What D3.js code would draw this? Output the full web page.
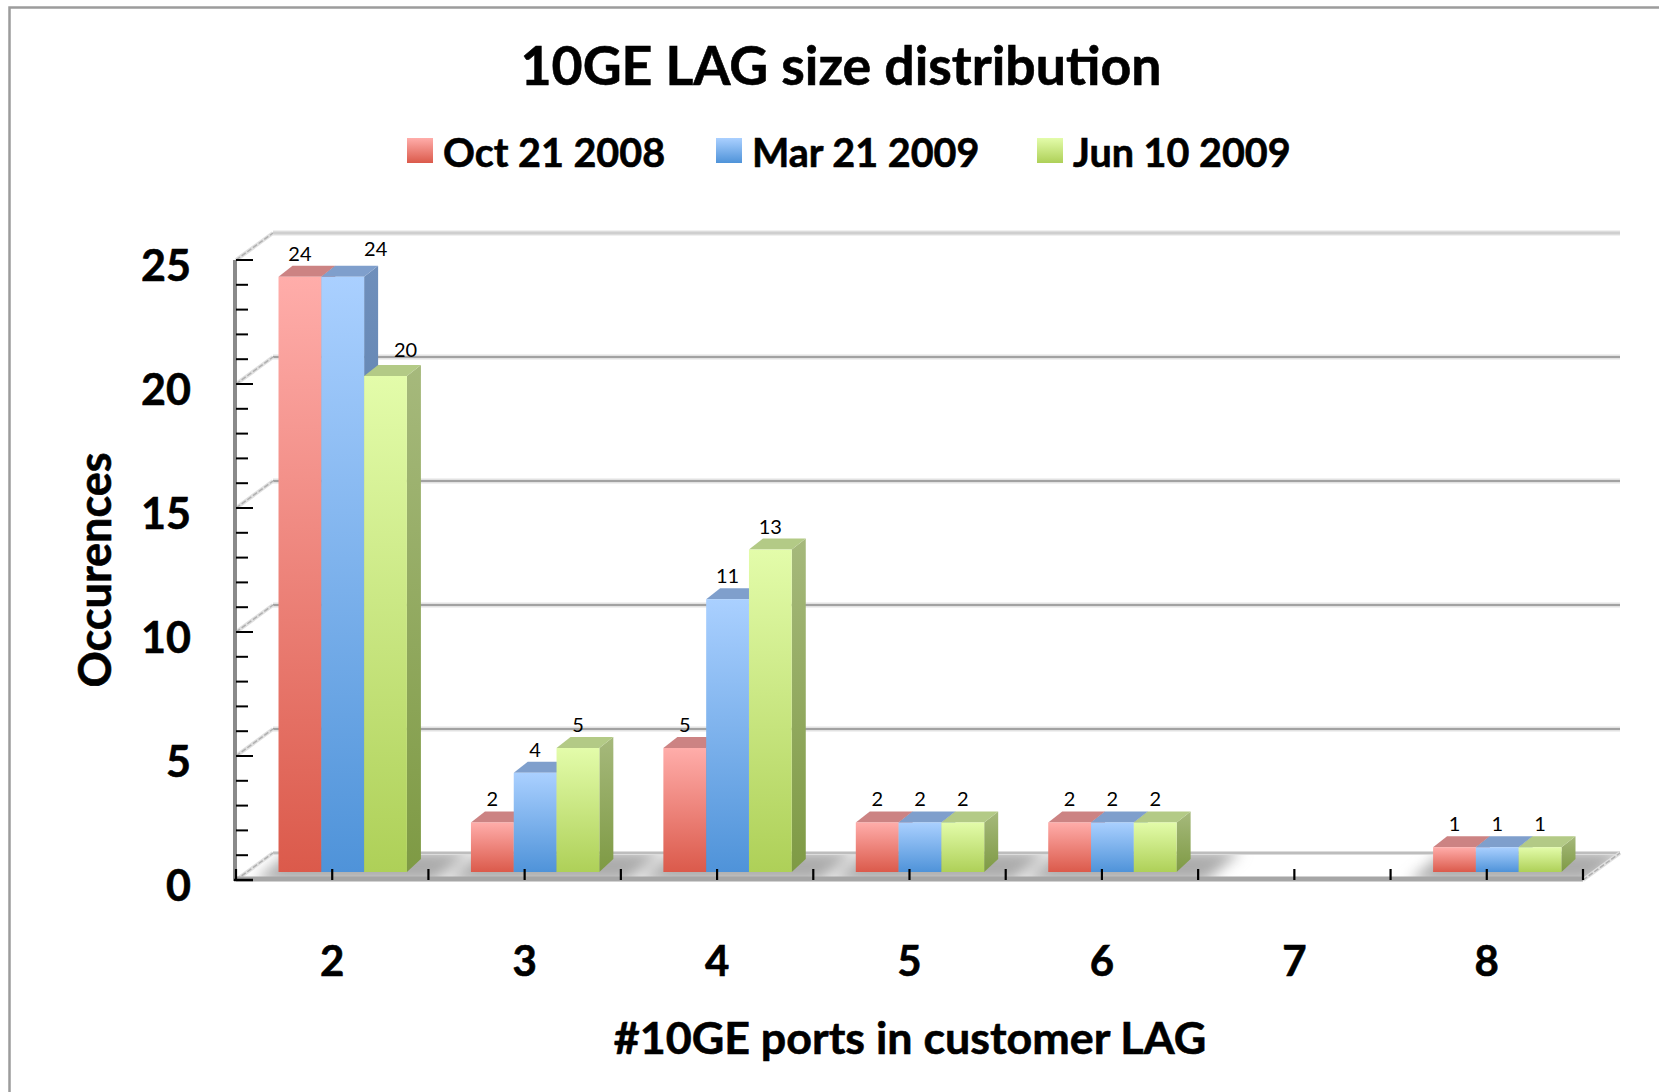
<!DOCTYPE html>
<html><head><meta charset="utf-8">
<script src="https://cdn.jsdelivr.net/npm/d3@7/dist/d3.min.js"></script>
<style>html,body{margin:0;padding:0;background:#fff}svg{display:block}text{font-family:Lato,"Open Sans",sans-serif;fill:#000}.b{font-weight:700;stroke:#000;stroke-width:.6px}</style>
</head><body><svg id="c" width="1659" height="1092"></svg>
<script>
const categories=["2","3","4","5","6","7","8"];
const seriesNames=["Oct 21 2008","Mar 21 2009","Jun 10 2009"];
const oct=[24,2,5,2,2,null,1];
const mar=[24,4,11,2,2,null,1];
const jun=[20,5,13,2,2,null,1];
const seriesValues=[oct,mar,jun];
const yTicks=[0,5,10,15,20,25];

const svg=d3.select("#c"),defs=svg.append("defs");
const W={l:236,r:1583,b:880,t:260},D={x:37,y:-27},B={x:14,y:-11,lift:8,shift:10.5,w:42.8};
const x=d3.scaleBand().domain(categories).range([W.l,W.r]);
const y=d3.scaleLinear().domain([0,25]).range([W.b,W.t]);
const inner=d3.scaleBand().domain(d3.range(3)).range([-B.w*1.5,B.w*1.5]);
const skin=[
 {top:"#ffadaa",bot:"#db5a4b",cap:"#cc8383",s1:"#b86a66",s2:"#a94c42"},
 {top:"#aad0ff",bot:"#4f93d9",cap:"#7f9fcc",s1:"#6f8fbb",s2:"#47709f"},
 {top:"#e3fcaa",bot:"#aed058",cap:"#b3ca86",s1:"#a6b97c",s2:"#7e9a44"}];
skin.forEach((s,i)=>{
 const g=defs.append("linearGradient").attr("id","f"+i).attr("x1",0).attr("y1",0).attr("x2",0).attr("y2",1);
 g.append("stop").attr("offset",0).attr("stop-color",s.top);g.append("stop").attr("offset",1).attr("stop-color",s.bot);
 const h=defs.append("linearGradient").attr("id","s"+i).attr("x1",0).attr("y1",0).attr("x2",0).attr("y2",1);
 h.append("stop").attr("offset",0).attr("stop-color",s.s1);h.append("stop").attr("offset",1).attr("stop-color",s.s2);
});
defs.append("filter").attr("id","soft").attr("x","-20%").attr("y","-100%").attr("width","140%").attr("height","300%")
 .append("feGaussianBlur").attr("stdDeviation",7);
defs.append("clipPath").attr("id","floorClip").append("polygon")
 .attr("points",[[W.l,W.b],[W.l+D.x,W.b+D.y],[W.r+D.x,W.b+D.y],[W.r,W.b]].join(" "));

// frame
svg.append("path").attr("d","M9.5,1092V7.5H1659").attr("fill","none").attr("stroke","#9c9c9c").attr("stroke-width",2.5);

// back wall lines and left wall diagonals
const wall=svg.append("g");
yTicks.filter(v=>v>0).forEach(v=>{
 const yy=y(v)+D.y;
 wall.append("line").attr("x1",W.l+D.x).attr("x2",W.r+D.x).attr("y1",yy).attr("y2",yy).attr("stroke","#e2e2e2").attr("stroke-width",5);
 wall.append("line").attr("x1",W.l+D.x).attr("x2",W.r+D.x).attr("y1",yy).attr("y2",yy).attr("stroke",v==25?"#cfcfcf":"#a2a2a2").attr("stroke-width",v==25?2.5:2);
 wall.append("line").attr("x1",W.l).attr("x2",W.l+D.x).attr("y1",y(v)).attr("y2",yy).attr("stroke","#e0e0e0").attr("stroke-width",4);
 wall.append("line").attr("x1",W.l).attr("x2",W.l+D.x).attr("y1",y(v)).attr("y2",yy).attr("stroke","#b0b0b0").attr("stroke-width",1.5).attr("stroke-dasharray","5 2");
});

// floor
const floor=svg.append("g");
floor.append("polygon").attr("points",[[W.l,W.b],[W.l+D.x,W.b+D.y],[W.r+D.x,W.b+D.y],[W.r,W.b]].join(" ")).attr("fill","#fff");
const shade=floor.append("g").attr("clip-path","url(#floorClip)").append("g").attr("filter","url(#soft)");
categories.forEach((c,i)=>{
 if(seriesValues.every(s=>s[i]==null))return;
 const cx=x(c)+x.bandwidth()/2+B.shift,l=cx-B.w*1.5-25,r=cx+B.w*1.5+28;
 shade.append("polygon").attr("points",[[l,W.b+2],[l+D.x,W.b+D.y-2],[r+D.x,W.b+D.y-2],[r,W.b+2]].join(" ")).attr("fill","#acacac");
});
floor.append("line").attr("x1",W.l+D.x).attr("x2",W.r+D.x).attr("y1",W.b+D.y).attr("y2",W.b+D.y).attr("stroke","#dcdcdc").attr("stroke-width",4);
floor.append("line").attr("x1",W.l+D.x).attr("x2",W.r+D.x).attr("y1",W.b+D.y).attr("y2",W.b+D.y).attr("stroke","#bdbdbd").attr("stroke-width",2);
[W.l,W.r].forEach(e=>{
 floor.append("line").attr("x1",e).attr("x2",e+D.x).attr("y1",W.b).attr("y2",W.b+D.y).attr("stroke","#e0e0e0").attr("stroke-width",4);
 floor.append("line").attr("x1",e).attr("x2",e+D.x).attr("y1",W.b).attr("y2",W.b+D.y).attr("stroke","#b0b0b0").attr("stroke-width",1.5).attr("stroke-dasharray","5 2");
});
floor.append("line").attr("x1",W.l).attr("x2",W.r).attr("y1",W.b-1).attr("y2",W.b-1).attr("stroke","#a6a6a6").attr("stroke-width",5);

// left axis bar
svg.append("line").attr("x1",W.l-1).attr("x2",W.l-1).attr("y1",W.t).attr("y2",W.b+1).attr("stroke","#8a8a8a").attr("stroke-width",4);

// bars
const bars=svg.append("g");
const pts=a=>a.map(p=>p.join(",")).join(" ");
seriesValues.forEach((vals,s)=>{
 const g=bars.append("g");
 vals.forEach((v,i)=>{
  if(v==null)return;
  const x0=x(categories[i])+x.bandwidth()/2+B.shift+inner(s),x1=x0+inner.bandwidth();
  const y0=y(v)-B.lift,y1=y(0)-B.lift;
  g.append("polygon").attr("points",pts([[x1,y0],[x1+B.x,y0+B.y],[x1+B.x,y1+B.y-2],[x1,y1]])).attr("fill",`url(#s${s})`);
  g.append("polygon").attr("points",pts([[x0,y0],[x0+B.x,y0+B.y],[x1+B.x,y0+B.y],[x1,y0]])).attr("fill",skin[s].cap);
  g.append("rect").attr("x",x0).attr("y",y0).attr("width",x1-x0).attr("height",y1-y0).attr("fill",`url(#f${s})`);
 });
});

// axes
const xAxis=d3.axisBottom(x).tickSize(0).tickFormat(d=>d);
const gx=svg.append("g").attr("transform",`translate(0,${W.b})`).call(xAxis);
gx.select(".domain").remove();
gx.selectAll("text").attr("class","b").attr("y",96).attr("dy",0).style("font-size","42px");
const tickX=categories.map(c=>x(c)).concat([W.r]).concat(categories.map(c=>x(c)+x.bandwidth()/2));
svg.append("g").selectAll("line").data(tickX).join("line").attr("x1",d=>d).attr("x2",d=>d).attr("y1",W.b-11).attr("y2",W.b).attr("stroke","#000").attr("stroke-width",2.2);
svg.append("line").attr("x1",W.l-2).attr("x2",W.l+17).attr("y1",W.b).attr("y2",W.b).attr("stroke","#000").attr("stroke-width",2.5);
const minor=d3.axisRight(y).tickValues(d3.range(0,26)).tickSize(12).tickFormat("");
const gm=svg.append("g").attr("transform",`translate(${W.l},0)`).call(minor);
gm.select(".domain").remove();
gm.selectAll("line").attr("stroke","#000").attr("stroke-width",2).attr("x2",d=>d%5==0?17:12);
gm.selectAll(".tick").attr("transform",d=>`translate(0,${y(d)})`);
const yAxis=d3.axisLeft(y).tickValues(yTicks).tickSize(0).tickFormat(d=>d);
const gy=svg.append("g").attr("transform",`translate(191,3)`).call(yAxis);
gy.select(".domain").remove();
gy.selectAll("text").attr("class","b").attr("x",0).attr("dy",0).attr("y",17).style("font-size","43px");

// value labels
const nudge={"0-1":[33,-5],"0-2":[20,-3]};
const labels=svg.append("g").attr("text-anchor","middle").style("font-size","20px");
seriesValues.forEach((vals,s)=>vals.forEach((v,i)=>{
 if(v==null)return;
 const n=nudge[i+"-"+s]||[0,0];
 const cx=x(categories[i])+x.bandwidth()/2+B.shift+inner(s)+inner.bandwidth()/2;
 labels.append("text").attr("x",cx+n[0]).attr("y",y(v)-B.lift-16+n[1]).text(v);
}));

// legend
const legX=[407,716,1037],txtX=[443,752,1073];
const leg=svg.append("g");
seriesNames.forEach((n,i)=>{
 leg.append("rect").attr("x",legX[i]).attr("y",138).attr("width",26).attr("height",25).attr("fill",`url(#f${i})`);
 leg.append("text").attr("class","b").attr("x",txtX[i]).attr("y",167).style("font-size","39.5px").text(n);
});

// titles
svg.append("text").attr("class","b").attr("x",841).attr("y",85).attr("text-anchor","middle").style("font-size","53.6px").text("10GE LAG size distribution");
svg.append("text").attr("class","b").attr("x",910).attr("y",1054).attr("text-anchor","middle").style("font-size","44.8px").text("#10GE ports in customer LAG");
svg.append("text").attr("class","b").attr("transform","translate(111,570) rotate(-90)").attr("text-anchor","middle").style("font-size","45px").text("Occurences");
</script></body></html>
